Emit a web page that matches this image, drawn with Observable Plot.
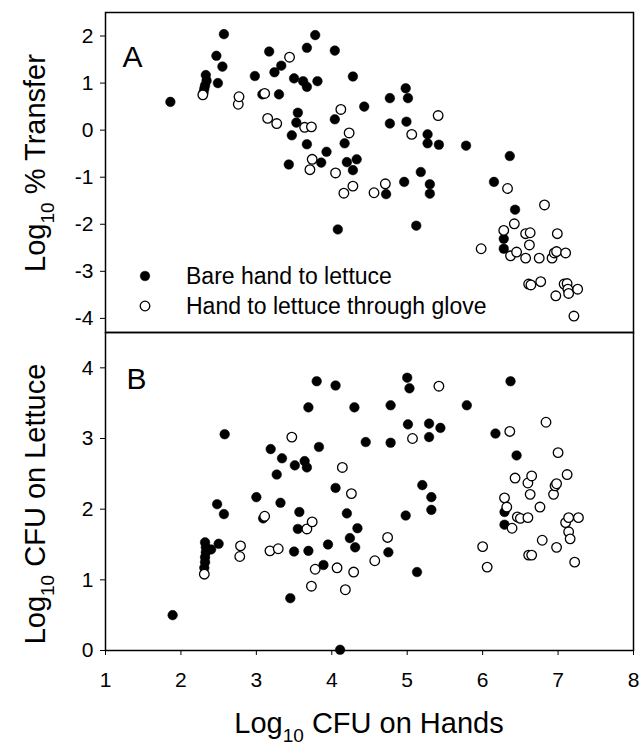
<!DOCTYPE html>
<html><head><meta charset="utf-8">
<script src="https://cdn.jsdelivr.net/npm/d3@7"></script>
<script src="https://cdn.jsdelivr.net/npm/@observablehq/plot@0.6"></script>
<style>
body{margin:0;background:#fff;}
#chart{width:641px;height:747px;position:relative;background:#fff;overflow:hidden;}
#chart svg{position:absolute;left:0;display:block;}
</style>
</head><body><div id="chart"></div>
<script>
// ---- data ----
const xTicks = [1, 2, 3, 4, 5, 6, 7, 8];
const yTicksA = [-4, -3, -2, -1, 0, 1, 2];
const yTicksB = [0, 1, 2, 3, 4];
const seriesNames = ["Bare hand to lettuce", "Hand to lettuce through glove"];
const panelLabels = ["A", "B"];
const xTitle = ["Log", "10", " CFU on Hands"];
const yTitleA = ["Log", "10", " % Transfer"];
const yTitleB = ["Log", "10", " CFU on Lettuce"];

// Panel A: log10 % transfer vs log10 CFU on hands
const transferBare = [
  [1.86,0.60],[2.30,0.80],[2.31,0.88],[2.32,0.95],[2.34,1.05],[2.33,1.17],
  [2.57,2.04],[2.47,1.58],[2.55,1.35],[2.49,1.00],[2.98,1.15],[3.08,0.76],
  [3.17,1.67],[3.24,1.23],[3.30,0.76],[3.33,1.37],[3.43,-0.73],[3.47,-0.11],
  [3.50,1.10],[3.53,0.16],[3.55,0.37],[3.62,1.04],[3.67,0.92],[3.67,1.75],
  [3.67,-0.30],[3.78,2.02],[3.81,1.04],[3.86,-0.69],[3.93,-0.46],[4.04,1.69],
  [4.04,0.23],[4.08,-2.11],[4.17,-0.28],[4.20,-0.68],[4.28,1.14],[4.28,-0.85],
  [4.33,-0.62],[4.43,0.50],[4.72,-1.36],[4.77,0.68],[4.77,0.14],[4.96,-1.10],
  [4.98,0.89],[4.99,0.18],[5.01,0.68],[5.12,-2.03],[5.18,-0.89],[5.27,-0.09],
  [5.27,-0.28],[5.30,-1.15],[5.30,-1.35],[5.42,-0.31],[5.78,-0.33],[6.15,-1.10],
  [6.28,-2.31],[6.28,-2.52],[6.36,-0.55],[6.43,-1.69]
];
const transferGlove = [
  [2.29,0.75],[2.76,0.55],[2.77,0.71],[3.11,0.78],[3.15,0.25],[3.27,0.14],
  [3.44,1.55],[3.64,0.06],[3.73,0.07],[3.71,-0.84],[3.74,-0.62],[4.05,-0.91],
  [4.12,0.44],[4.16,-1.34],[4.23,-0.06],[4.28,-1.19],[4.56,-1.33],[4.71,-1.14],
  [5.06,-0.09],[5.41,0.31],[5.98,-2.52],[6.28,-2.13],[6.33,-1.24],[6.37,-2.67],
  [6.42,-1.99],[6.45,-2.59],[6.57,-2.20],[6.63,-2.18],[6.62,-2.44],[6.57,-2.72],
  [6.61,-3.27],[6.64,-3.29],[6.75,-2.72],[6.77,-3.22],[6.82,-1.59],[6.92,-2.72],
  [6.95,-2.61],[6.98,-2.58],[6.99,-2.20],[6.97,-3.52],[7.08,-3.27],[7.10,-2.61],
  [7.12,-3.26],[7.13,-3.38],[7.14,-3.47],[7.21,-3.95],[7.26,-3.38]
];

// Panel B: log10 CFU on lettuce vs log10 CFU on hands
const lettuceBare = [
  [1.89,0.50],[2.32,1.53],[2.33,1.46],[2.33,1.39],[2.32,1.32],[2.32,1.25],
  [2.31,1.17],[2.40,1.43],[2.50,1.51],[2.48,2.07],[2.57,1.93],[2.58,3.06],
  [3.00,2.17],[3.09,1.87],[3.19,2.85],[3.27,2.49],[3.32,2.09],[3.34,2.72],
  [3.45,0.74],[3.50,1.40],[3.51,2.62],[3.55,1.72],[3.57,1.96],[3.64,2.68],
  [3.67,2.59],[3.69,3.44],[3.69,1.41],[3.80,3.81],[3.83,2.88],[3.89,1.21],
  [3.95,1.50],[4.05,3.75],[4.05,2.30],[4.11,0.01],[4.20,1.94],[4.24,1.59],
  [4.30,3.44],[4.31,1.46],[4.34,1.73],[4.45,2.95],[4.75,1.39],[4.78,3.47],
  [4.78,2.94],[4.98,1.91],[5.00,3.86],[5.01,3.20],[5.03,3.71],[5.13,1.11],
  [5.20,2.34],[5.29,3.21],[5.29,3.02],[5.32,2.17],[5.32,1.99],[5.44,3.15],
  [5.79,3.47],[6.17,3.07],[6.29,1.96],[6.29,1.78],[6.37,3.81],[6.45,2.76]
];
const lettuceGlove = [
  [2.31,1.08],[2.78,1.33],[2.79,1.48],[3.11,1.90],[3.18,1.41],[3.29,1.44],
  [3.47,3.02],[3.67,1.72],[3.74,1.82],[3.73,0.91],[3.78,1.15],[4.07,1.17],
  [4.14,2.59],[4.18,0.86],[4.26,2.22],[4.29,1.11],[4.57,1.27],[4.74,1.60],
  [5.07,3.00],[5.42,3.74],[6.00,1.47],[6.06,1.18],[6.29,2.16],[6.32,2.03],
  [6.36,3.10],[6.39,1.73],[6.43,2.44],[6.46,1.89],[6.50,1.87],[6.60,1.88],
  [6.60,2.37],[6.63,2.21],[6.61,1.35],[6.65,1.35],[6.65,2.47],[6.76,2.03],
  [6.79,1.56],[6.84,3.23],[6.94,2.21],[6.96,2.33],[6.98,2.36],[6.98,1.46],
  [7.00,2.80],[7.10,1.81],[7.12,2.49],[7.14,1.88],[7.14,1.68],[7.16,1.58],
  [7.22,1.25],[7.27,1.88]
];

// ---- drawing ----
const FONT = '"Liberation Sans", Arial, Helvetica, sans-serif';
const R = 4.8;
const TICK_FS = 21;
const toObj = arr => arr.map(([x, y]) => ({x, y}));
const fmt = d => String(d);
const baseStyle = {fontFamily: FONT, background: "transparent", color: "black", overflow: "visible"};

function dots(bare, glove) {
  return [
    Plot.dot(toObj(bare), {x: "x", y: "y", r: R, fill: "black", stroke: "black", strokeWidth: 0.5}),
    Plot.dot(toObj(glove), {x: "x", y: "y", r: R, fill: "white", stroke: "black", strokeWidth: 1.3})
  ];
}

const chartA = Plot.plot({
  width: 641, height: 340, marginTop: 12, marginBottom: 8, marginLeft: 105, marginRight: 8,
  style: baseStyle,
  x: {domain: [1, 8], axis: null},
  y: {domain: [-4.3, 2.5], axis: null},
  marks: [
    Plot.axisY({ticks: yTicksA, tickSize: 5, tickPadding: 7, fontSize: TICK_FS, label: null, tickFormat: fmt}),
    ...dots(transferBare, transferGlove),
    Plot.frame({stroke: "black", strokeWidth: 1.5}),
    Plot.text([panelLabels[0]], {frameAnchor: "top-left", dx: 17, dy: 33, fontSize: 30, textAnchor: "start", lineAnchor: "top"})
  ]
});

const chartB = Plot.plot({
  width: 641, height: 423, marginTop: 8, marginBottom: 97, marginLeft: 105, marginRight: 8,
  style: baseStyle,
  x: {domain: [1, 8], axis: null},
  y: {domain: [0, 4.5], axis: null},
  marks: [
    Plot.axisX({ticks: xTicks, tickSize: 5, tickPadding: 17, fontSize: TICK_FS, label: null, tickFormat: fmt}),
    Plot.axisY({ticks: yTicksB, tickSize: 5, tickPadding: 7, fontSize: TICK_FS, label: null, tickFormat: fmt}),
    ...dots(lettuceBare, lettuceGlove),
    Plot.frame({stroke: "black", strokeWidth: 1.5}),
    Plot.text([panelLabels[1]], {frameAnchor: "top-left", dx: 21, dy: 35, fontSize: 30, textAnchor: "start", lineAnchor: "top"})
  ]
});

const root = document.getElementById("chart");
chartA.style.top = "0px";
chartB.style.top = "324px";
root.appendChild(chartB);
root.appendChild(chartA);

function subTitle(sel, parts, transform) {
  const t = sel.append("text")
    .attr("transform", transform)
    .attr("text-anchor", "middle")
    .attr("font-family", FONT)
    .attr("font-size", 29)
    .attr("fill", "black");
  t.append("tspan").text(parts[0]);
  t.append("tspan").attr("font-size", 19).attr("dy", 9).text(parts[1]);
  t.append("tspan").attr("dy", -9).text(parts[2]);
}

const sA = d3.select(chartA);
const sB = d3.select(chartB);
subTitle(sA, yTitleA, "translate(45,163) rotate(-90)");
subTitle(sB, yTitleB, "translate(45,180) rotate(-90)");
subTitle(sB, xTitle, "translate(369,409)");

// legend in panel A
const leg = sA.append("g").attr("font-family", FONT).attr("font-size", 23).attr("text-anchor", "start");
[0, 1].forEach(i => {
  const y = 276 + i * 30;
  leg.append("circle").attr("cx", 145).attr("cy", y).attr("r", R)
    .attr("fill", i === 0 ? "black" : "white").attr("stroke", "black").attr("stroke-width", i === 0 ? 0.5 : 1.3);
  leg.append("text").attr("x", 186).attr("y", y).attr("dy", "0.36em").attr("text-anchor", "start").text(seriesNames[i]);
});
</script>
</body></html>
